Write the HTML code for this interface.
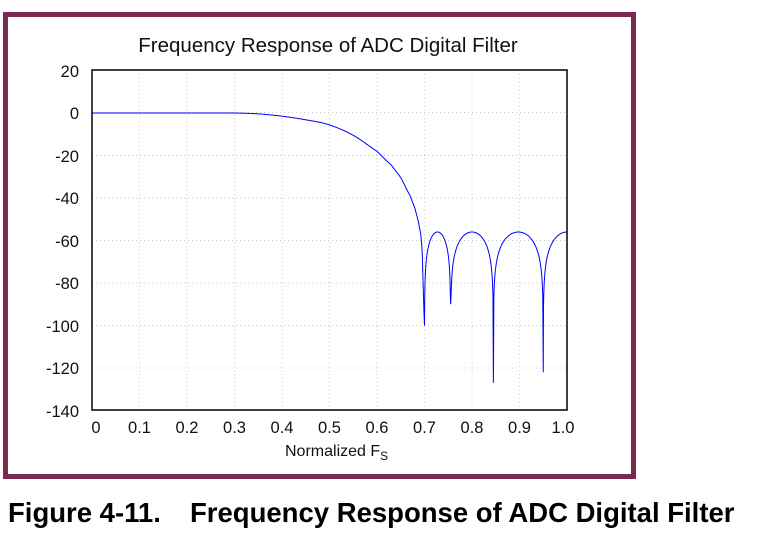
<!DOCTYPE html>
<html><head><style>
html,body{margin:0;padding:0;background:#fff;width:762px;height:535px;overflow:hidden}
svg text{font-family:"Liberation Sans",Arial,sans-serif}
</style></head><body>
<svg width="762" height="535" xmlns="http://www.w3.org/2000/svg">
<rect x="5.5" y="14.5" width="628" height="462" fill="#fff" stroke="#7a2a52" stroke-width="5"/>
<text x="328" y="52" font-size="20.5" text-anchor="middle" fill="#111">Frequency Response of ADC Digital Filter</text>
<g stroke="#c8c8c8" stroke-width="1" stroke-dasharray="1,3">
<line x1="139.5" y1="70" x2="139.5" y2="410"/><line x1="187" y1="70" x2="187" y2="410"/>
<line x1="234.5" y1="70" x2="234.5" y2="410"/><line x1="282" y1="70" x2="282" y2="410"/>
<line x1="329.5" y1="70" x2="329.5" y2="410"/><line x1="377" y1="70" x2="377" y2="410"/>
<line x1="424.5" y1="70" x2="424.5" y2="410"/><line x1="472" y1="70" x2="472" y2="410"/>
<line x1="519.5" y1="70" x2="519.5" y2="410"/>
<line x1="92" y1="112.5" x2="567" y2="112.5"/>
<line x1="92" y1="155.5" x2="567" y2="155.5"/><line x1="92" y1="198" x2="567" y2="198"/>
<line x1="92" y1="240.5" x2="567" y2="240.5"/><line x1="92" y1="283" x2="567" y2="283"/>
<line x1="92" y1="325.5" x2="567" y2="325.5"/><line x1="92" y1="368" x2="567" y2="368"/>
</g>
<path id="curve" d="" fill="none" stroke="#0000ff" stroke-width="1"/>
<rect x="92" y="70" width="475" height="340" fill="none" stroke="#000" stroke-width="1.5"/>
<g font-size="16.5" fill="#111" text-anchor="end">
<text x="79" y="77">20</text><text x="79" y="119">0</text><text x="79" y="162">-20</text>
<text x="79" y="204">-40</text><text x="79" y="247">-60</text><text x="79" y="289">-80</text>
<text x="79" y="332">-100</text><text x="79" y="374">-120</text><text x="79" y="417">-140</text>
</g>
<g font-size="16.5" fill="#111" text-anchor="middle">
<text x="96" y="433">0</text><text x="139.5" y="433">0.1</text><text x="187" y="433">0.2</text>
<text x="234.5" y="433">0.3</text><text x="282" y="433">0.4</text><text x="329.5" y="433">0.5</text>
<text x="377" y="433">0.6</text><text x="424.5" y="433">0.7</text><text x="472" y="433">0.8</text>
<text x="519.5" y="433">0.9</text><text x="563" y="433">1.0</text>
</g>
<text x="285" y="456" font-size="16" fill="#111">Normalized F<tspan font-size="12" dy="4">S</tspan></text>
<text x="8" y="522" font-size="27.5" font-weight="bold" fill="#000">Figure 4-11.</text>
<text x="190" y="522" font-size="27.5" font-weight="bold" fill="#000">Frequency Response of ADC Digital Filter</text>
</svg>
<script>
(function(){
function X(f){return 92+475*f}
function Y(d){return 113-2.125*d}
var pts=[];
var k=[[0,0],[0.3,0],[0.35,-0.4],[0.4,-1.5],[0.45,-3.2],[0.5,-5.6],[0.55,-10.5],[0.6,-18],[0.63,-24.5],[0.65,-30.5],[0.67,-39],[0.68,-45],[0.687,-51],[0.692,-57],[0.695,-65],[0.697,-80],[0.7,-100]];
for(var j=0;j<k.length-1;j++){
 var a=k[j],b=k[j+1],n=(j==0)?1:20;
 for(var i=0;i<n;i++){
  var t=i/n;
  var p0=k[Math.max(j-1,0)],p3=k[Math.min(j+2,k.length-1)];
  // catmull-rom on d with f linear
  var t2=t*t,t3=t2*t;
  var d=0.5*((2*a[1])+(-p0[1]+b[1])*t+(2*p0[1]-5*a[1]+4*b[1]-p3[1])*t2+(-p0[1]+3*a[1]-3*b[1]+p3[1])*t3);
  if(j==0)d=0;
  pts.push([X(a[0]+(b[0]-a[0])*t),Y(Math.min(d,0))]);
 }
}
pts.push([X(0.7),Y(-100)]);
function lobe(a,b,da,db,half){
 var n=100;
 for(var i=0;i<=n;i++){
  var f=a+(b-a)*i/n;
  var t=(f-a)/(half?2*(b-a):(b-a));
  var s=Math.sin(Math.PI*t);
  var d=-56+20*Math.log10(Math.max(s,1e-6));
  var lim=(t<0.5)?da:db;
  if(d<lim)d=lim;
  pts.push([X(f),Y(d)]);
 }
}
lobe(0.70,0.755,-100,-90,false);
lobe(0.755,0.845,-90,-127,false);
lobe(0.845,0.95,-127,-122,false);
lobe(0.95,1.0,-122,-122,true);
document.getElementById('curve').setAttribute('d','M'+pts.map(function(p){return p[0].toFixed(2)+','+p[1].toFixed(2)}).join(' L'));
})();
</script>
</body></html>
